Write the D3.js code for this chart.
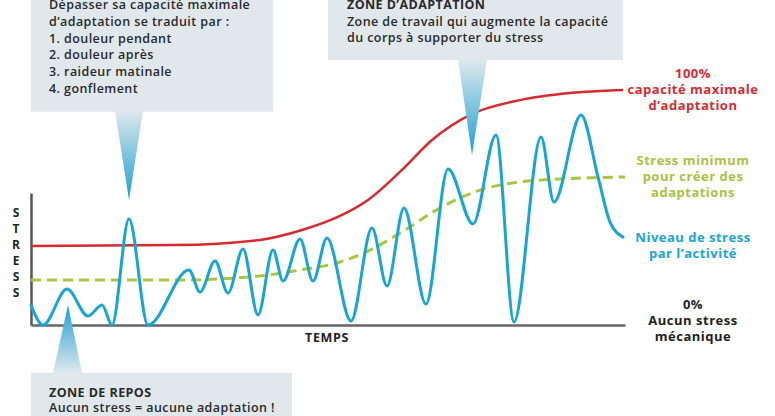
<!DOCTYPE html>
<html>
<head>
<meta charset="utf-8">
<script src="https://cdn.jsdelivr.net/npm/d3@7"></script>
<style>
  body { margin: 0; background: #fff; }
  svg { display: block; }
  text { font-family: "Open Sans", Lato, sans-serif; font-weight: 700; }
</style>
</head>
<body>
<div id="container"></div>
<script>
// temps (unités arbitraires) et stress (% de la capacité max)
const blueTime = [0, 12, 36, 57, 71, 81, 98, 117, 158, 169, 184, 197, 212, 227, 242, 252, 269, 282, 296, 320, 341, 356, 373, 395, 417, 442, 465, 483, 510, 523, 550, 567, 579, 592];
const blueStress = [8.5, 0, 15.3, 3.8, 8.5, 0, 45.1, 0, 23.4, 14.0, 27.2, 13.6, 32.3, 4.3, 31.9, 18.7, 36.6, 18.7, 37.0, 1.7, 41.3, 16.6, 49.8, 8.9, 66.4, 43.0, 80.9, 1.3, 80.0, 52.3, 89.4, 63.0, 43.8, 37.4];

const redTime = [0, 144, 229, 271, 309, 337, 371, 401, 439, 489, 539, 592];
const redStress = [33.6, 34.0, 36.2, 40.4, 46.4, 53.2, 66.0, 78.7, 89.4, 95.7, 98.7, 100];

const greenTime = [0, 144, 229, 269, 309, 339, 369, 409, 449, 489, 529, 594];
const greenStress = [19.1, 19.1, 20.9, 23.4, 26.8, 31.9, 39.1, 49.8, 57.4, 60.9, 62.1, 63.0];

const width = 775;
const height = 416;

const svg = d3.select('#container')
    .append('svg')
    .attr('width', width)
    .attr('height', height)
    .attr('viewBox', [0, 0, width, height]);

const x = d3.scaleLinear().domain([0, 594]).range([31, 625]);
const y = d3.scaleLinear().domain([0, 100]).range([325, 90]);

const defs = svg.append('defs');
function grad(id, flip) {
    const g = defs.append('linearGradient').attr('id', id)
        .attr('x1', 0).attr('x2', 0).attr('y1', 0).attr('y2', 1);
    g.append('stop').attr('offset', '0%').attr('stop-color', flip ? '#1aa0d3' : '#e0e8ec');
    g.append('stop').attr('offset', '100%').attr('stop-color', flip ? '#e0e8ec' : '#1aa0d3');
}
grad('gDown', false);
grad('gUp', true);

const line = d3.line().curve(d3.curveMonotoneX);
const pts = (t, v) => t.map((d, i) => [x(d), y(v[i])]);

// axes
const yAxisScale = y.copy().domain([0, 56]).range([325, 193]);
svg.append('g')
    .attr('transform', `translate(${x(0)},0)`)
    .call(d3.axisLeft(yAxisScale).ticks(0).tickSizeOuter(0))
    .call(g => g.select('.domain').attr('stroke', '#555').attr('stroke-width', 2.5));
svg.append('g')
    .attr('transform', `translate(0,${y(0)})`)
    .call(d3.axisBottom(x).ticks(0).tickSizeOuter(0))
    .call(g => g.select('.domain').attr('stroke', '#666').attr('stroke-width', 2.5));

svg.append('path')
    .attr('d', line(pts(greenTime, greenStress)))
    .attr('fill', 'none').attr('stroke', '#acc63c').attr('stroke-width', 3)
    .attr('stroke-dasharray', '10,6');

svg.append('path')
    .attr('d', line(pts(redTime, redStress)))
    .attr('fill', 'none').attr('stroke', '#d62a30').attr('stroke-width', 2.5);

svg.append('path')
    .attr('d', line(pts(blueTime, blueStress)))
    .attr('fill', 'none').attr('stroke', '#17a5d8').attr('stroke-width', 3)
    .attr('stroke-linecap', 'round');

// axis labels
svg.append('g').selectAll('text')
    .data('STRESS'.split(''))
    .join('text')
    .attr('x', 16).attr('y', (d, i) => 217 + i * 16)
    .attr('text-anchor', 'middle').attr('font-size', 12).attr('font-weight', 800).attr('fill', '#222')
    .text(d => d);
svg.append('text')
    .attr('x', 327).attr('y', 342)
    .attr('text-anchor', 'middle').attr('font-size', 12.5).attr('fill', '#222')
    .attr('letter-spacing', 0.6)
    .text('TEMPS');

// right labels
const rightLabels = [
    {lines: ['100%', 'capacité maximale', 'd’adaptation'], y: 78, color: '#d62a30'},
    {lines: ['Stress minimum', 'pour créer des', 'adaptations'], y: 165, color: '#a9c23f'},
    {lines: ['Niveau de stress', 'par l’activité'], y: 242, color: '#17a5d8'},
    {lines: ['0%', 'Aucun stress', 'mécanique'], y: 309, color: '#222'}
];
rightLabels.forEach(l => {
    svg.append('text')
        .attr('text-anchor', 'middle').attr('font-size', 13).attr('fill', l.color)
        .attr('letter-spacing', 0.5)
        .selectAll('tspan').data(l.lines).join('tspan')
        .attr('x', 693).attr('y', (d, i) => l.y + i * 16)
        .text(d => d);
});

// callouts
function callout(box, tri, up, lines, tx, ty, lh) {
    svg.append('path')
        .attr('d', `M${tri[0]},${tri[1]} L${tri[2]},${tri[1]} L${tri[3]},${tri[4]} Z`)
        .attr('fill', `url(#${up ? 'gUp' : 'gDown'})`);
    svg.append('rect')
        .attr('x', box[0]).attr('y', box[1]).attr('width', box[2]).attr('height', box[3])
        .attr('fill', '#e0e8ec');
    svg.append('text')
        .attr('font-size', 12.5).attr('fill', '#2a2a2a')
        .attr('letter-spacing', 0.42)
        .selectAll('tspan').data(lines).join('tspan')
        .attr('x', tx).attr('y', (d, i) => ty + i * lh)
        .attr('font-weight', (d, i) => i === 0 && d === d.toUpperCase() ? 700 : 600)
        .text(d => d);
}
callout([31, -20, 242, 131.7], [115, 111, 143, 129, 200], false,
    ['Dépasser sa capacité maximale', 'd’adaptation se traduit par :', '1.  douleur pendant',
     '2. douleur après', '3. raideur matinale', '4. gonflement'], 49, 9, 16.8);
callout([328, -20, 295, 80], [458, 59, 487, 472, 155], false,
    ['ZONE D’ADAPTATION', 'Zone de travail qui augmente la capacité', 'du corps à supporter du stress'], 347, 9, 16.6);
callout([31, 372.7, 261, 60], [53, 373, 82, 68, 305], true,
    ['ZONE DE REPOS', 'Aucun stress = aucune adaptation !'], 49, 397, 15);
</script>
</body>
</html>
